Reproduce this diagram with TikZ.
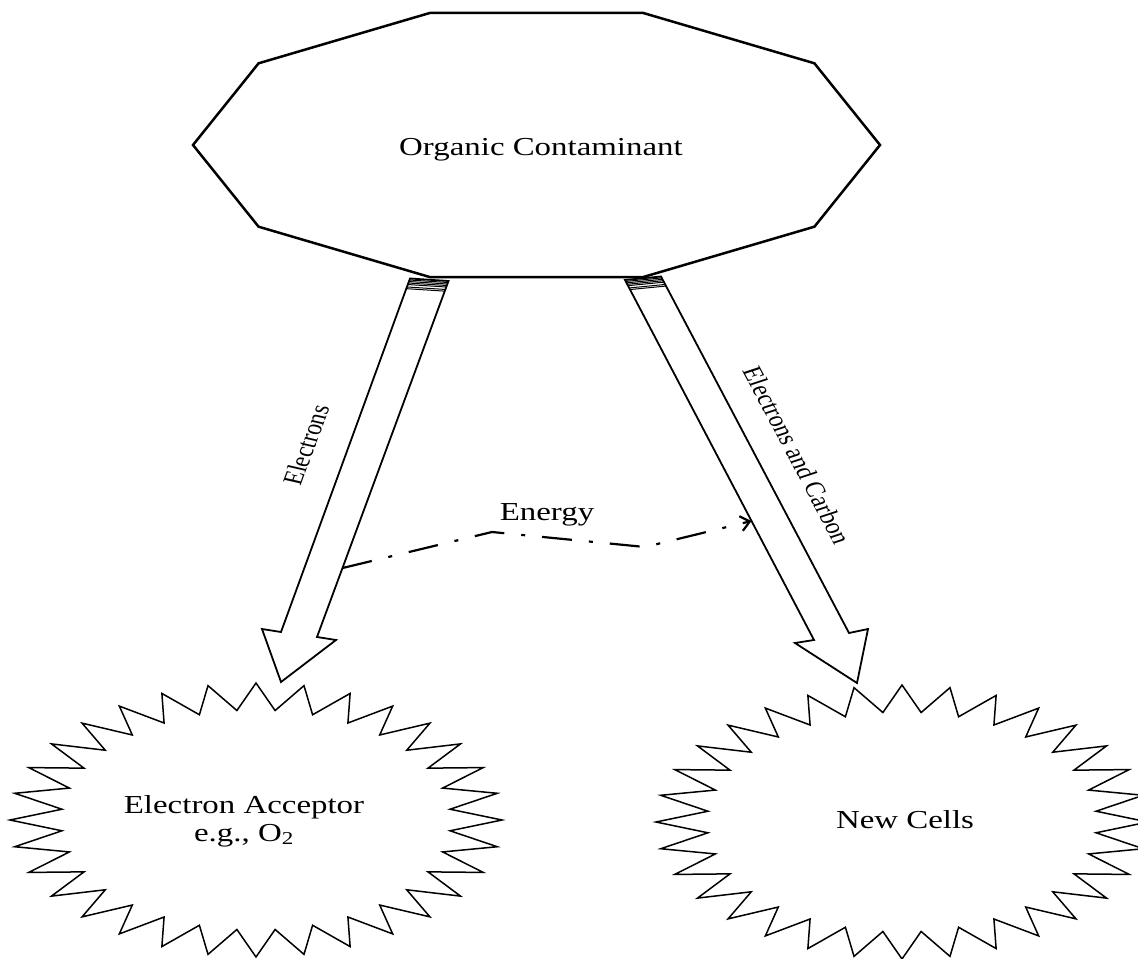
\documentclass[tikz,border=0pt]{standalone}
\usepackage{fontspec}
\setmainfont{Liberation Serif}
\usetikzlibrary{arrows.meta}
\begin{document}
\begin{tikzpicture}[x=1bp,y=-1bp,
  decagonline/.style={draw=black, fill=white, line width=2.5bp, line join=miter},
  burstline/.style={draw=black, line width=1.5bp, line join=miter},
  bigarrow/.style={draw=black, fill=white, line width=1.8bp, line join=miter},
  hatchline/.style={draw=black, line width=1bp},
  energyline/.style={draw=black, line width=2.2bp, dash pattern=on 30bp off 17bp on 4bp off 17bp, -{Straight Barb[length=9bp,width=15bp,line width=2.2bp]}},
  bigtxt/.style={font=\fontsize{26}{29}\selectfont, inner sep=0pt, align=center},
  sidetxt/.style={font=\fontsize{22}{24}\selectfont, inner sep=0pt}]
\useasboundingbox (0,0) rectangle (1138,959);
\clip (0,0) rectangle (1138,959);

% starbursts
\draw[burstline] (256+246,820) \foreach \k in {1,...,63} { -- ({256+(246-51*mod(\k,2))*cos(\k*5.625)},{820-(137-27*mod(\k,2))*sin(\k*5.625)}) } -- cycle;
\draw[burstline] (902+246,822) \foreach \k in {1,...,63} { -- ({902+(246-51*mod(\k,2))*cos(\k*5.625)},{822-(137-27*mod(\k,2))*sin(\k*5.625)}) } -- cycle;

% big arrows
\draw[bigarrow] (410,278.5) -- (281,632) -- (262,629) -- (281,682) -- (336,640) -- (317,637) -- (448.5,281) -- cycle;
\draw[bigarrow] (625,280) -- (814,640) -- (795,643) -- (857,683) -- (868,629) -- (849,633) -- (661,276.5) -- cycle;
\foreach \t in {1.6,3.2,4.8,6.4,9,10.8} {
  \draw[hatchline, shift={(-0.34*\t,0.94*\t)}] (410,278.5) -- (448.5,281);
  \draw[hatchline, shift={(0.468*\t,0.884*\t)}] (625,280) -- (661,276.5);
}

% decagon
\draw[decagonline] (536.5+343.5,145) \foreach \k in {1,...,9} { -- ({536.5+343.5*cos(\k*36)},{145-139*sin(\k*36)}) } -- cycle;

% texts
\begin{scope}[shift={(541,150)}, xscale=1.27]
  \node[bigtxt, transform shape] (contaminant) at (0,0) {Organic Contaminant};
\end{scope}
\begin{scope}[shift={(244,821)}, xscale=1.27]
  \node[bigtxt, transform shape] (acceptor) at (0,0) {Electron Acceptor\\[-1pt]e.g., O\textsubscript{2}};
\end{scope}
\begin{scope}[shift={(905,820)}, xscale=1.27]
  \node[bigtxt, transform shape] (cells) at (0,0) {New Cells};
\end{scope}
\begin{scope}[shift={(547,515)}, xscale=1.27]
  \node[bigtxt, transform shape] (energy) at (0,0) {Energy};
\end{scope}
\begin{scope}[shift={(306,445)}, xscale=1.27]
  \node[sidetxt, rotate=73.8, transform shape] (electrons) at (0,0) {Electrons};
\end{scope}
\begin{scope}[shift={(797,455)}, xscale=1.27]
  \node[sidetxt, rotate=-67.4, transform shape] (elcarbon) at (0,0) {Electrons and Carbon};
\end{scope}

% energy connector
\coordinate (eStart) at (342.6,568);
\coordinate (eBend1) at (492,532);
\coordinate (eBend2) at (645,547);
\coordinate (eEnd) at (751.5,521);
\draw[energyline] (eStart) -- (eBend1) -- (eBend2) -- (eEnd);
\end{tikzpicture}
\end{document}
